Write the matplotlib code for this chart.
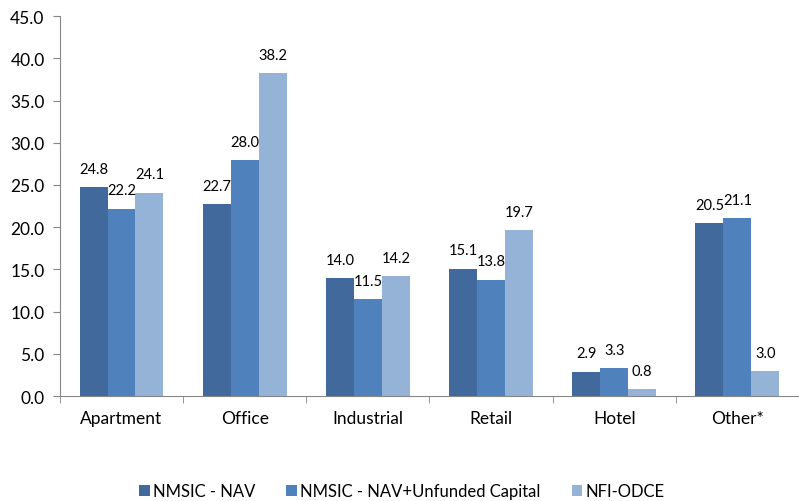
import matplotlib
matplotlib.use('Agg')
import matplotlib.pyplot as plt
import numpy as np

categories = ['Apartment', 'Office', 'Industrial', 'Retail', 'Hotel', 'Other*']
series_names = ['NMSIC - NAV', 'NMSIC - NAV+Unfunded Capital', 'NFI-ODCE']
nav = [24.8, 22.7, 14.0, 15.1, 2.9, 20.5]
nav_unfunded = [22.2, 28.0, 11.5, 13.8, 3.3, 21.1]
odce = [24.1, 38.2, 14.2, 19.7, 0.8, 3.0]
colors = ['#41699C', '#4F81BD', '#95B3D7']

plt.rcParams['font.family'] = ['Lato', 'DejaVu Sans']

fig = plt.figure(figsize=(7.99, 5.02), dpi=100)
ax = fig.add_axes([0.075, 0.209, 0.925, 0.757])

x = np.arange(len(categories))
w = 0.227
for i, (vals, name, c) in enumerate(zip([nav, nav_unfunded, odce], series_names, colors)):
    bars = ax.bar(x + (i - 1) * w, vals, w, color=c, label=name)
    for b, v in zip(bars, vals):
        ax.annotate('%.1f' % v, (b.get_x() + b.get_width() / 2, v),
                    xytext=(0, 8), textcoords='offset points',
                    ha='center', va='bottom', fontsize=10.5, color='#000000')

ax.set_xlim(-0.5, len(categories) - 0.5)
ax.set_ylim(0, 45)
ax.set_yticks(np.arange(0, 46, 5))
ax.set_yticklabels(['%.1f' % t for t in np.arange(0, 46, 5)], fontsize=12.5)
ax.set_xticks(x)
ax.set_xticklabels(categories, fontsize=12.5)
ax.set_xticks(np.arange(-0.5, len(categories)), minor=True)
ax.tick_params(axis='x', which='major', length=0, pad=10)
ax.tick_params(axis='x', which='minor', length=5, color='#868686')
ax.tick_params(axis='y', length=5, color='#868686', pad=6)

for s in ['top', 'right']:
    ax.spines[s].set_visible(False)
for s in ['left', 'bottom']:
    ax.spines[s].set_color('#868686')

fig.legend(loc='lower center', bbox_to_anchor=(0.503, -0.026), ncol=3, frameon=False,
           fontsize=12, handlelength=0.65, handleheight=0.65, handletextpad=0.2,
           columnspacing=1.85)

plt.savefig('out.png', dpi=100)
